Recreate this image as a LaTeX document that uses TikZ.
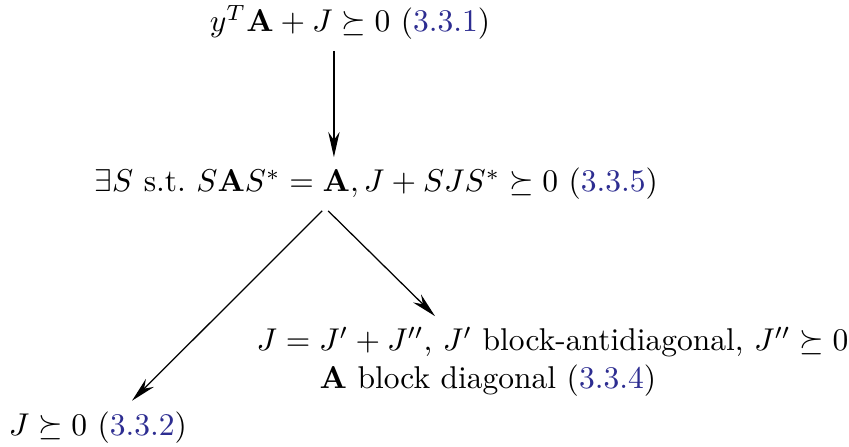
\documentclass[tikz,border=0pt]{standalone}
\usepackage{amsmath, amssymb, bm}
\usepackage{xcolor}
\usetikzlibrary{arrows.meta}
\definecolor{refblue}{RGB}{45,45,145}
\newcommand{\eqlabel}[1]{(\textcolor{refblue}{#1})}

\begin{document}
\begin{tikzpicture}[
  every node/.style={font=\normalsize},
  stmt/.style={align=left},
  arrow/.style={-{Stealth[length=8pt,width=3.6pt]}}
]
  \useasboundingbox (0,0) rectangle (9.471,-4.976);

  \node[stmt] (top) at (3.905,-0.251) {$y^T\mathbf{A} + J \succeq 0$ \eqlabel{3.3.1}};
  \node[stmt] (mid) at (4.197,-2.053) {$\exists S$ s.t.\ $S\mathbf{A}S^* = \mathbf{A}, J + SJS^* \succeq 0$ \eqlabel{3.3.5}};
  \node[stmt] (split) at (6.164,-4.038) {$J = J' + J''$, $J'$ block-antidiagonal, $J'' \succeq 0$\\
    \hspace*{20pt}$\mathbf{A}$ block diagonal \eqlabel{3.3.4}};
  \node[stmt] (psd) at (1.093,-4.770) {$J \succeq 0$ \eqlabel{3.3.2}};

  \draw[arrow] ([xshift=-0.18cm]top.south) -- ([xshift=-0.18cm]top.south |- mid.north);
  \draw[arrow] ([xshift=-0.603cm]mid.south) -- ([xshift=0.38cm]psd.north);
  \draw[arrow] ([xshift=-0.536cm]mid.south) -- ([xshift=-1.311cm]split.north);
\end{tikzpicture}
\end{document}
